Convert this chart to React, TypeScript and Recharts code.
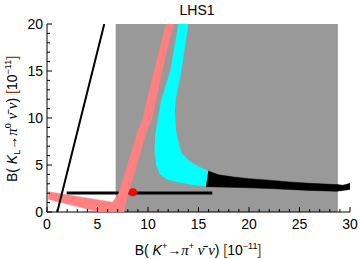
import { ReferenceArea, Scatter, ScatterChart, XAxis, YAxis } from "recharts";

// axis ticks (labels only on multiples of 5)
const xTicks = [0, 1, 2, 3, 4, 5, 6, 7, 8, 9, 10, 11, 12, 13, 14, 15, 16, 17, 18, 19, 20, 21, 22, 23, 24, 25, 26, 27, 28, 29, 30];
const yTicks = [0, 1, 2, 3, 4, 5, 6, 7, 8, 9, 10, 11, 12, 13, 14, 15, 16, 17, 18, 19, 20];

// allowed (gray) box
const grayBox = { x1: 6.8, x2: 28.8, y1: 0, y2: 20 };

// region outlines, [B(K+), B(KL)] in 10^-11
const pinkBand: [number, number][] = [
  [0.13, 2.16], [6.5, 1.05], [7.1, 2.0], [9.04, 8.7], [9.5, 10], [10.6, 15], [11.8, 20],
  [12.5, 20], [11.4, 15], [10.4, 10], [9.87, 8.7], [8.05, 2.0], [7.6, 0], [5.2, 0], [0.13, 1.35],
];

const cyanRegion: [number, number][] = [
  [13.0, 20], [14.0, 20], [13.3, 15], [12.75, 12], [12.65, 10.5], [12.8, 8.5], [13.3, 6.3],
  [14.1, 5.4], [15.1, 4.8], [15.97, 4.35], [15.74, 2.72], [14.3, 2.9], [12.8, 3.2], [11.8, 3.5],
  [11.2, 4.0], [10.8, 5.0], [10.65, 6.5], [10.7, 8.0], [10.9, 9.5], [11.3, 11.9], [12.2, 15],
];

const blackBand: [number, number][] = [
  [15.97, 4.35], [17, 3.95], [18.5, 3.72], [20, 3.55], [22, 3.38], [24, 3.2], [26, 3.05],
  [28.7, 2.92], [29.3, 2.85], [30, 3.05], [30, 2.4], [28.7, 2.2], [26, 2.3], [24, 2.4],
  [22, 2.5], [20, 2.57], [18, 2.63], [15.74, 2.69],
];

const diagonalLine: [number, number][] = [[1.02, 0], [5.67, 20]];
const flatLine: [number, number][] = [[1.95, 2.03], [16.37, 2.03]];
const smPoint: [number, number][] = [[8.5, 2.1]];

const toPoints = (pts: [number, number][]) => pts.map(([x, y]) => ({ x, y }));

const FONT = "Liberation Sans, Arial, sans-serif";
const SERIF = "Liberation Serif, Times New Roman, serif";
const BRACKET = "#8b4010";

const Hidden = () => <g />;

function BottomTick(props: any) {
  const { x, y, payload } = props;
  const major = payload.value % 5 === 0;
  return (
    <g>
      <line x1={x} y1={y} x2={x} y2={y - (major ? 5 : 3)} stroke="#000" />
      {major && (
        <text x={x} y={y + 17} textAnchor="middle" fontSize={14} fontFamily={FONT} fill="#000">
          {payload.value}
        </text>
      )}
    </g>
  );
}

function TopTick(props: any) {
  const { x, y, payload } = props;
  const major = payload.value % 5 === 0;
  return <line x1={x} y1={y} x2={x} y2={y + (major ? 5 : 3)} stroke="#000" />;
}

function LeftTick(props: any) {
  const { x, y, payload } = props;
  const major = payload.value % 5 === 0;
  return (
    <g>
      <line x1={x} y1={y} x2={x + (major ? 5 : 3)} y2={y} stroke="#000" />
      {major && (
        <text x={x - 4} y={y + 5} textAnchor="end" fontSize={14} fontFamily={FONT} fill="#000">
          {payload.value}
        </text>
      )}
    </g>
  );
}

function RightTick(props: any) {
  const { x, y, payload } = props;
  const major = payload.value % 5 === 0;
  return <line x1={x} y1={y} x2={x - (major ? 5 : 3)} y2={y} stroke="#000" />;
}

function Titles() {
  return (
    <svg
      width={360}
      height={259}
      style={{ position: "absolute", left: 0, top: 0, pointerEvents: "none" }}
    >
      <text x={197} y={14.7} textAnchor="middle" fontSize={14} fontFamily={FONT} fill="#000">
        LHS1
      </text>
      <text x={198} y={255} textAnchor="middle" fontSize={14} fontFamily={FONT} fill="#000">
        B(
        <tspan fontStyle="italic"> K</tspan>
        <tspan fontSize={9} dy={-6}>+</tspan>
        <tspan dy={6}>→</tspan>
        <tspan fontFamily={SERIF} fontStyle="italic" fontSize={15}>π</tspan>
        <tspan fontSize={9} dy={-6}>+</tspan>
        <tspan dy={6} fontFamily={SERIF} fontStyle="italic" fontSize={15}> {"ν\u0304"} ν</tspan>
        <tspan>) </tspan>
        <tspan fill={BRACKET}>[</tspan>
        <tspan>10</tspan>
        <tspan fontSize={9} dy={-6}>−11</tspan>
        <tspan dy={6} fill={BRACKET}>]</tspan>
      </text>
      <text
        transform="translate(12,119) rotate(-90)"
        x={0}
        y={5}
        textAnchor="middle"
        fontSize={14}
        fontFamily={FONT}
        fill="#000"
      >
        B(
        <tspan fontStyle="italic"> K</tspan>
        <tspan fontSize={9} dy={3}>L</tspan>
        <tspan dy={-3}>→</tspan>
        <tspan fontFamily={SERIF} fontStyle="italic" fontSize={15}>π</tspan>
        <tspan fontSize={9} dy={-6}>0</tspan>
        <tspan dy={6} fontFamily={SERIF} fontStyle="italic" fontSize={15}> {"ν\u0304"} ν</tspan>
        <tspan>) </tspan>
        <tspan fill={BRACKET}>[</tspan>
        <tspan>10</tspan>
        <tspan fontSize={9} dy={-6}>−11</tspan>
        <tspan dy={6} fill={BRACKET}>]</tspan>
      </text>
    </svg>
  );
}

export default function App() {
  return (
    <div style={{ position: "absolute", left: 0, top: 0, width: 360, height: 259, background: "#fff" }}>
      <ScatterChart width={360} height={259} margin={{ top: 24, right: 10, bottom: 0, left: 0 }}>
        <XAxis
          dataKey="x"
          type="number"
          domain={[0, 30]}
          ticks={xTicks}
          interval={0}
          allowDataOverflow
          height={47}
          tickSize={0}
          tickMargin={0}
          tickLine={false}
          axisLine={{ stroke: "#000" }}
          tick={(p: any) => <BottomTick {...p} />}
        />
        <XAxis
          xAxisId="top"
          orientation="top"
          type="number"
          domain={[0, 30]}
          ticks={xTicks}
          interval={0}
          height={0}
          tickSize={0}
          tickMargin={0}
          tickLine={false}
          axisLine={{ stroke: "#000" }}
          tick={(p: any) => <TopTick {...p} />}
        />
        <YAxis
          dataKey="y"
          type="number"
          domain={[0, 20]}
          ticks={yTicks}
          interval={0}
          allowDataOverflow
          width={47}
          tickSize={0}
          tickMargin={0}
          tickLine={false}
          axisLine={{ stroke: "#000" }}
          tick={(p: any) => <LeftTick {...p} />}
        />
        <YAxis
          yAxisId="right"
          orientation="right"
          type="number"
          domain={[0, 20]}
          ticks={yTicks}
          interval={0}
          width={0}
          tickSize={0}
          tickMargin={0}
          tickLine={false}
          axisLine={{ stroke: "#000" }}
          tick={(p: any) => <RightTick {...p} />}
        />
        <ReferenceArea
          x1={grayBox.x1}
          x2={grayBox.x2}
          y1={grayBox.y1}
          y2={grayBox.y2}
          fill="#999999"
          fillOpacity={1}
          stroke="none"
        />
        <Scatter
          data={toPoints(flatLine)}
          shape={Hidden}
          line={{ stroke: "#000", strokeWidth: 3 }}
          isAnimationActive={false}
        />
        <Scatter
          data={toPoints(pinkBand)}
          shape={Hidden}
          line={{ fill: "#ff8080", stroke: "#ff8080", strokeWidth: 0.5 }}
          isAnimationActive={false}
        />
        <Scatter
          data={toPoints(cyanRegion)}
          shape={Hidden}
          line={{ fill: "#00ffff", stroke: "none" }}
          isAnimationActive={false}
        />
        <Scatter
          data={toPoints(blackBand)}
          shape={Hidden}
          line={{ fill: "#000", stroke: "#000", strokeWidth: 0.5 }}
          isAnimationActive={false}
        />
        <Scatter
          data={toPoints(diagonalLine)}
          shape={Hidden}
          line={{ stroke: "#000", strokeWidth: 2 }}
          isAnimationActive={false}
        />
        <Scatter
          data={toPoints(smPoint)}
          shape={(p: any) => <circle cx={p.cx} cy={p.cy} r={4} fill="#ff0000" />}
          isAnimationActive={false}
        />
      </ScatterChart>
      <Titles />
    </div>
  );
}
